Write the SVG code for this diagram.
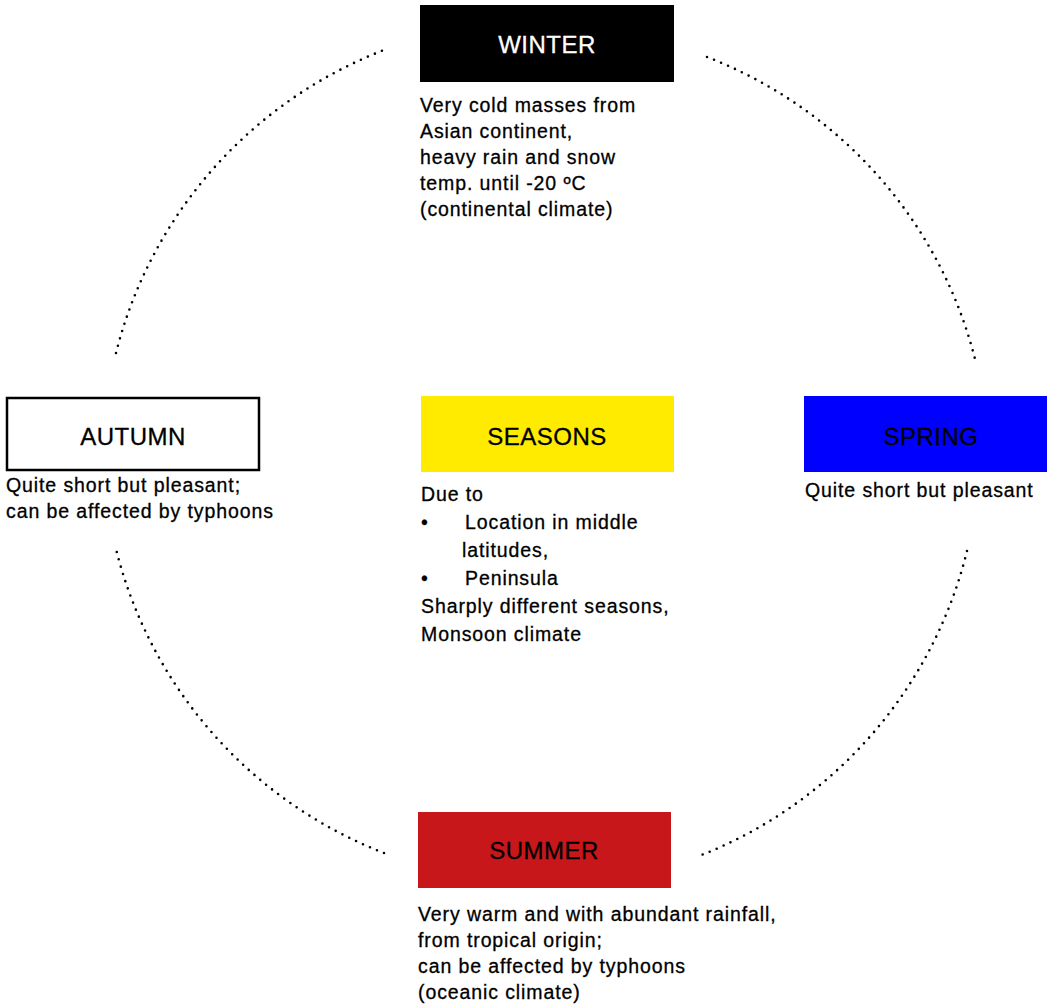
<svg xmlns="http://www.w3.org/2000/svg" width="1047" height="1005" viewBox="0 0 1047 1005">
<style>
.title{font-family:"Liberation Sans",Arial,sans-serif;font-size:24px;letter-spacing:0.5px;text-anchor:middle;stroke-width:0.3px}
.body{font-family:"Liberation Sans",Arial,sans-serif;font-size:19.5px;letter-spacing:0.9px;fill:#000;stroke:#000;stroke-width:0.3px}
.arc{fill:none;stroke:#000;stroke-width:2.6;stroke-linecap:round;stroke-dasharray:0 7.6}
</style>
<rect width="1047" height="1005" fill="#fff"/>
<g id="connectors">
<path class="arc" d="M116,353 A440,440 0 0 1 384,50"/>
<path class="arc" d="M707,57 A440,440 0 0 1 975,359"/>
<path class="arc" d="M967,551 A440,440 0 0 1 699,856"/>
<path class="arc" d="M384,853 A440,440 0 0 1 116,549"/>
</g>
<g id="winter">
<rect x="420" y="5" width="254" height="77" fill="#000"/>
<text class="title" x="547" y="52.5" fill="#fff" stroke="#fff">WINTER</text>
<text class="body" x="420" y="111.5">Very cold masses from</text>
<text class="body" x="420" y="137.5">Asian continent,</text>
<text class="body" x="420" y="163.5">heavy rain and snow</text>
<text class="body" x="420" y="189.5">temp. until -20 ºC</text>
<text class="body" x="420" y="215.5">(continental climate)</text>
</g>
<g id="seasons">
<rect x="421" y="396" width="253" height="76" fill="#FFEB00"/>
<text class="title" x="547" y="444.5" fill="#000" stroke="#000">SEASONS</text>
<text class="body" x="421" y="501">Due to</text>
<text class="body" x="421" y="529">•</text>
<text class="body" x="465" y="529">Location in middle</text>
<text class="body" x="462" y="557">latitudes,</text>
<text class="body" x="421" y="585">•</text>
<text class="body" x="465" y="585">Peninsula</text>
<text class="body" x="421" y="613">Sharply different seasons,</text>
<text class="body" x="421" y="641">Monsoon climate</text>
</g>
<g id="spring">
<rect x="804" y="396" width="253" height="76" fill="#0000FF"/>
<text class="title" x="931" y="444.5" fill="#000" stroke="#000">SPRING</text>
<text class="body" x="805" y="497">Quite short but pleasant</text>
</g>
<g id="autumn">
<rect x="7" y="398" width="252" height="72" fill="#fff" stroke="#000" stroke-width="2.5"/>
<text class="title" x="133" y="444.5" fill="#000" stroke="#000">AUTUMN</text>
<text class="body" x="6" y="492">Quite short but pleasant;</text>
<text class="body" x="6" y="518">can be affected by typhoons</text>
</g>
<g id="summer">
<rect x="418" y="812" width="253" height="76" fill="#C8171B"/>
<text class="title" x="544" y="859" fill="#000" stroke="#000">SUMMER</text>
<text class="body" x="418" y="920.5">Very warm and with abundant rainfall,</text>
<text class="body" x="418" y="946.5">from tropical origin;</text>
<text class="body" x="418" y="972.5">can be affected by typhoons</text>
<text class="body" x="418" y="998.5">(oceanic climate)</text>
</g>
</svg>
